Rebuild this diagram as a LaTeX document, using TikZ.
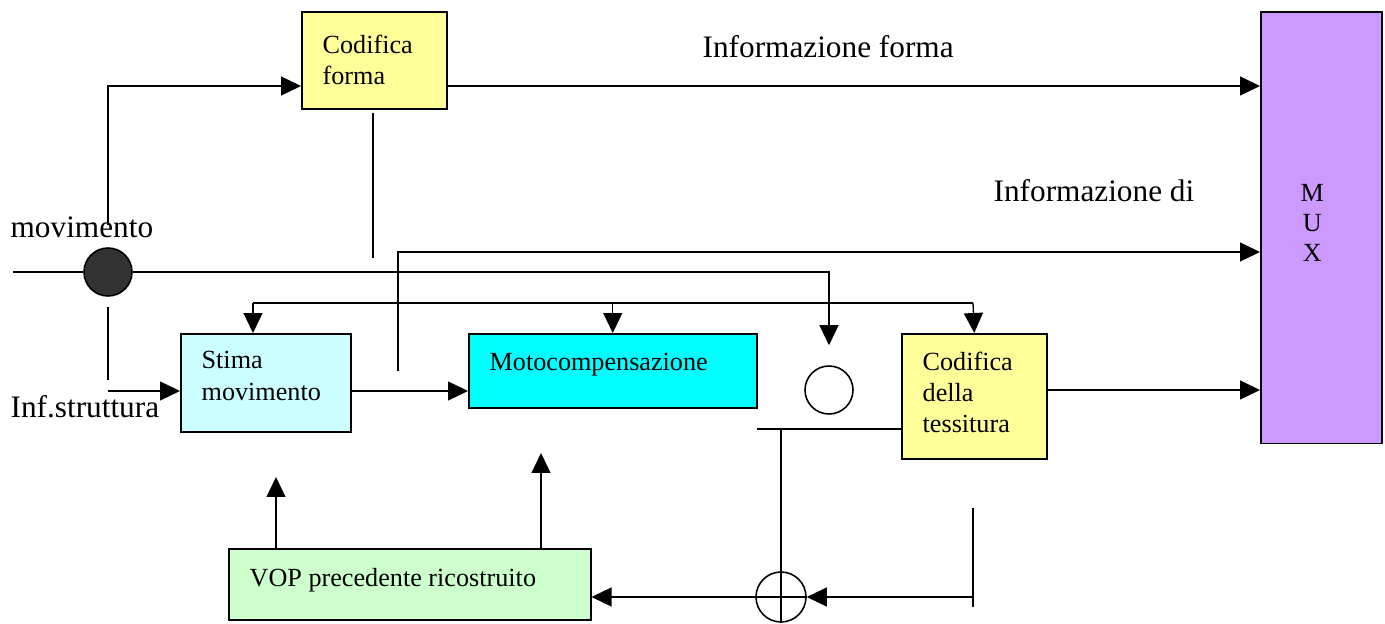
\documentclass[tikz,border=0pt]{standalone}
\usepackage{fontspec}
\setmainfont{Liberation Serif}
\usepackage{xcolor}
\usetikzlibrary{arrows.meta}

\definecolor{giallo}{HTML}{FFFF99}
\definecolor{azzurro}{HTML}{CCFFFF}
\definecolor{ciano}{HTML}{00FFFF}
\definecolor{viola}{HTML}{CC99FF}
\definecolor{verde}{HTML}{CCFFCC}
\definecolor{scuro}{HTML}{333333}

\begin{document}
\begin{tikzpicture}[x=0.02cm, y=-0.02cm, >={Triangle[length=0.4cm,width=0.38cm]}, line width=0.75pt,
		blocco/.style={draw, line width=0.9pt, rectangle, anchor=north west, inner sep=0pt},
		testo/.style={anchor=north west, align=left, inner sep=0pt, xshift=0.42cm, yshift=-0.36cm, font=\fontsize{14.9}{17.8}\selectfont},
		etichetta/.style={anchor=base west, inner sep=0pt, font=\fontsize{17.8}{21}\selectfont},
		cerchio/.style={draw, circle, line width=0.9pt, inner sep=0pt, minimum size=0.96cm}]
			\useasboundingbox (0,0) rectangle (1385,624);

			% Blocks
			\node[blocco, fill=giallo, minimum width=2.9cm, minimum height=1.94cm, label={[testo, yshift=-0.1cm]north west:{Codifica\\forma}}] (cforma) at (301,11) {};
			\node[blocco, fill=viola, minimum width=2.42cm, minimum height=8.64cm, label={[align=center, xshift=-0.18cm, yshift=0.1cm, font=\fontsize{14.9}{17.2}\selectfont]center:{M\\U\\X}}] (mux) at (1260,11) {};
			\node[blocco, fill=azzurro, minimum width=3.4cm, minimum height=1.96cm, label={[testo]north west:{Stima\\movimento}}] (stima) at (180,333) {};
			\node[blocco, fill=ciano, minimum width=5.76cm, minimum height=1.48cm, label={[testo, yshift=-0.04cm]north west:Motocompensazione}] (moto) at (468,333) {};
			\node[blocco, fill=giallo, minimum width=2.9cm, minimum height=2.5cm, label={[testo]north west:{Codifica\\della\\tessitura}}] (ctess) at (901,333) {};
			\node[blocco, fill=verde, minimum width=7.24cm, minimum height=1.42cm, label={[testo, yshift=-0.04cm]north west:VOP precedente ricostruito}] (vop) at (228,548) {};

			% Circles
			\node[cerchio, fill=scuro] (nodo) at (108,272) {};
			\node[cerchio, fill=white] (vuoto) at (829,390) {};
			\node[cerchio, minimum size=1cm] (somma) at (781,597) {};

			% Labels
			\node[etichetta] (lforma) at (702,58) {Informazione forma};
			\node[etichetta] (ldi) at (993,202) {Informazione di};
			\node[etichetta] (lmov) at (10,238) {movimento};
			\node[etichetta] (lstr) at (10,418) {Inf.struttura};

			% Free line ends
			\coordinate (ingresso) at (13,272);
			\coordinate (m1) at (108,225);
			\coordinate (m2) at (108,307);
			\coordinate (m3) at (108,380);
			\coordinate (s1) at (108,391);
			\coordinate (f1) at (373,113);
			\coordinate (f2) at (373,258);
			\coordinate (d1) at (398,371);
			\coordinate (d2) at (398,252);
			\coordinate (b1) at (253,303);
			\coordinate (b2) at (973,303);
			\coordinate (t1) at (757,429);
			\coordinate (t2) at (781,429);
			\coordinate (r1) at (973,508);
			\coordinate (r2) at (973,607);

			% Shape path
			\draw[->] (m1) |- (cforma.west |- 0,86);
			\draw[->] (cforma.east |- 0,86) -- (mux.west |- 0,86);
			\draw (f1) -- (f2);

			% Motion path
			\draw (ingresso) -- (nodo.west);
			\draw[->, shorten >=0.4cm] (nodo.east) -| (vuoto.north);
			\draw[->] (d1) -- (d2) -- (mux.west |- d2);
			\draw (m2) -- (m3);
			\draw[->] (s1) -- (stima.west |- s1);

			% Distribution bus
			\draw (b1) -- (b2);
			\draw[->] (b1) -- (b1 |- stima.north);
			\draw[->] (moto.north |- b1) -- (moto.north);
			\draw[->] (b2) -- (ctess.north);

			% Texture path
			\draw[->] (stima.east |- 0,391) -- (moto.west |- 0,391);
			\draw[->] (ctess.east |- 0,390) -- (mux.west |- 0,390);
			\draw (t1) -- (t1 -| ctess.west);
			\draw (t2) -- (somma.south);

			% Reconstruction loop
			\draw (r1) -- (r2);
			\draw[->] (r1 |- somma) -- (somma.east);
			\draw[->] (somma.east) -- (vop.east |- somma);
			\draw[->] (vop.north -| 276,0) -- (276,477);
			\draw[->] (vop.north -| 541,0) -- (541,453);

		\end{tikzpicture}
\end{document}
